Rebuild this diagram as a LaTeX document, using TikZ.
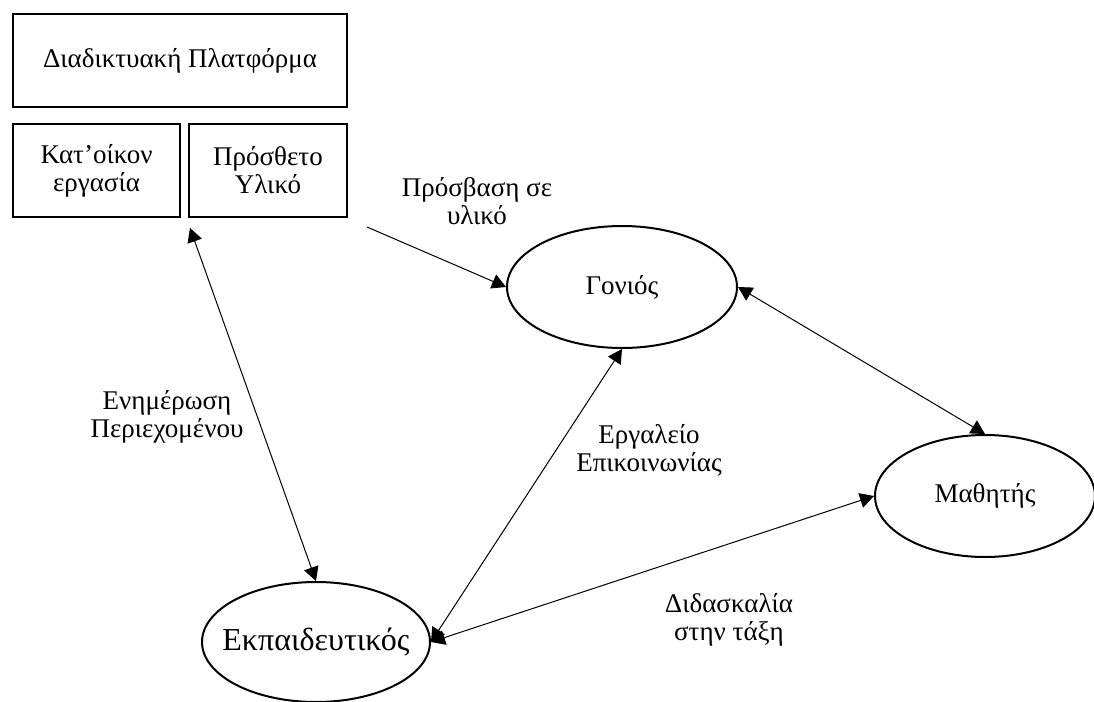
\documentclass[tikz,border=0pt]{standalone}
\usepackage{fontspec}
\setmainfont{Liberation Serif}
\usetikzlibrary{shapes.geometric, arrows.meta}
\tikzset{box/.style={draw, line width=1pt, inner sep=0pt, align=center, font=\fontsize{13.5}{14}\selectfont},
         oval/.style={draw, ellipse, line width=1pt, inner sep=0pt, minimum width=115pt, minimum height=61pt, font=\fontsize{13.5}{14}\selectfont},
         lbl/.style={align=center, inner sep=0pt, font=\fontsize{13.5}{14}\selectfont},
         tip/.style={line width=0.5pt, -{Triangle[length=7pt,width=7.5pt]}},
         link/.style={line width=0.5pt, {Triangle[length=7pt,width=7.5pt]}-{Triangle[length=7pt,width=7.5pt]}}}

\begin{document}
\begin{tikzpicture}[x=0.5pt, y=-0.5pt]
            \useasboundingbox (0,0) rectangle (1094,702);
            \coordinate (up) at (190,228); \coordinate (res) at (367,227);
            % Platforma
            \node[box, minimum width=167pt, minimum height=46.5pt] (plat) at (180,60.5) {Διαδικτυακή Πλατφόρμα};
            \node[box, minimum width=83.5pt, minimum height=46.5pt] (katoikon) at (96.5,170.5) {Κατ’οίκον\\εργασία};
            \node[box, minimum width=79pt, minimum height=46.5pt] (prostheto) at (268,170.5) {Πρόσθετο\\Υλικό};
            % Rola
            \node[oval] (gonios) at (622,287) {Γονιός};
            \node[oval, minimum width=110pt] (mathitis) at (985,496) {Μαθητής};
            \node[oval, minimum width=114pt, minimum height=60pt, font=\fontsize{16}{18}\selectfont] (ekp) at (316,642) {\makebox[0pt]{Εκπαιδευτικός}};
            \draw[tip] (res) -- (gonios.west);
            \draw[link] (gonios.east) -- (mathitis.north);
            \draw[link] (up) -- (ekp.north);
            \draw[link] (gonios.south) -- (ekp.east);
            \draw[link] (mathitis.west) -- (ekp.east);
            % Etiketes
            \node[lbl] (prosvasi) at (477,201) {Πρόσβαση σε\\υλικό};
            \node[lbl] (enimerosi) at (167,417) {Ενημέρωση\\Περιεχομένου};
            \node[lbl] (ergaleio) at (649,450) {Εργαλείο\\Επικοινωνίας};
            \node[lbl] (didaskalia) at (729,620) {Διδασκαλία\\στην τάξη};
        \end{tikzpicture}
\end{document}
